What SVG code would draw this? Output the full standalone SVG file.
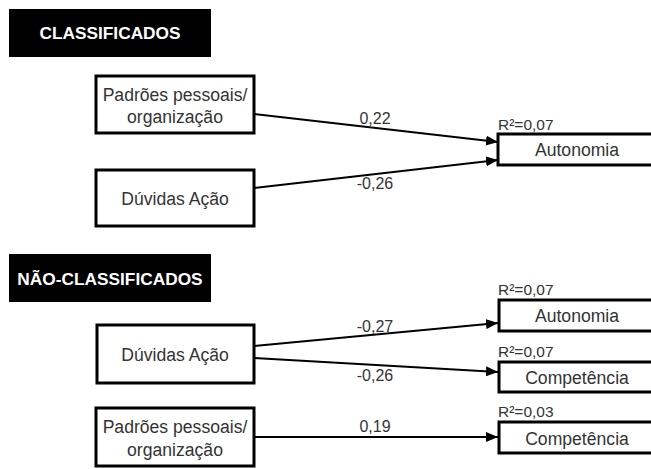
<svg xmlns="http://www.w3.org/2000/svg" width="651" height="469" viewBox="0 0 651 469">
<style>
.hdr{fill:#000}
.hdrt{fill:#fff;font-family:"Liberation Sans",Arial,sans-serif;font-weight:bold;font-size:17.3px;text-anchor:middle}
.box{fill:#fff;stroke:#000;stroke-width:3}
.t{fill:#333;font-family:"Liberation Sans",Arial,sans-serif;font-size:17.6px;text-anchor:middle}
.lbl{fill:#333;font-family:"Liberation Sans",Arial,sans-serif;font-size:16px;text-anchor:middle}
.r2{fill:#333;font-family:"Liberation Sans",Arial,sans-serif;font-size:15.5px}
.c{stroke:#000;stroke-width:2;fill:none;marker-end:url(#ah)}
</style>
<defs>
<marker id="ah" markerUnits="userSpaceOnUse" markerWidth="12" markerHeight="10" refX="12" refY="5" orient="auto">
<path d="M0,0 L12,5 L0,10 Z" fill="#000"/>
</marker>
</defs>
<rect width="651" height="469" fill="#fff"/>
<g id="hdr1"><rect class="hdr" x="9" y="9" width="202" height="48"/><text class="hdrt" x="110" y="39">CLASSIFICADOS</text></g>
<g id="hdr2"><rect class="hdr" x="9" y="254" width="202" height="48"/><text class="hdrt" x="110" y="285">NÃO-CLASSIFICADOS</text></g>
<g id="connectors">
<line class="c" x1="254" y1="114" x2="498" y2="142"/>
<line class="c" x1="254" y1="188" x2="498" y2="160"/>
<line class="c" x1="254" y1="346" x2="498" y2="323"/>
<line class="c" x1="254" y1="358" x2="498" y2="372"/>
<line class="c" x1="254" y1="437" x2="498" y2="437"/>
<text class="lbl" x="375" y="124">0,22</text>
<text class="lbl" x="375" y="189">-0,26</text>
<text class="lbl" x="375" y="332">-0,27</text>
<text class="lbl" x="375" y="381">-0,26</text>
<text class="lbl" x="375" y="432">0,19</text>
</g>
<g id="c_padroes"><rect class="box" x="96" y="76" width="158" height="57"/><text class="t" x="175" y="101">Padrões pessoais/</text><text class="t" x="175" y="123">organização</text></g>
<g id="c_duvidas"><rect class="box" x="96" y="170" width="158" height="56"/><text class="t" x="175" y="205">Dúvidas Ação</text></g>
<g id="c_autonomia"><text class="r2" x="498" y="130">R²=0,07</text><rect class="box" x="498" y="134" width="160" height="31"/><text class="t" x="577" y="156">Autonomia</text></g>
<g id="n_duvidas"><rect class="box" x="97" y="325" width="157" height="58"/><text class="t" x="175" y="361">Dúvidas Ação</text></g>
<g id="n_autonomia"><text class="r2" x="498" y="295">R²=0,07</text><rect class="box" x="499" y="300" width="160" height="31"/><text class="t" x="577" y="322">Autonomia</text></g>
<g id="n_competencia1"><text class="r2" x="498" y="357">R²=0,07</text><rect class="box" x="499" y="362" width="160" height="30"/><text class="t" x="577" y="384">Competência</text></g>
<g id="n_padroes"><rect class="box" x="96" y="408" width="158" height="58"/><text class="t" x="175" y="433">Padrões pessoais/</text><text class="t" x="175" y="456">organização</text></g>
<g id="n_competencia2"><text class="r2" x="498" y="417">R²=0,03</text><rect class="box" x="499" y="422" width="160" height="31"/><text class="t" x="577" y="445">Competência</text></g>
</svg>
